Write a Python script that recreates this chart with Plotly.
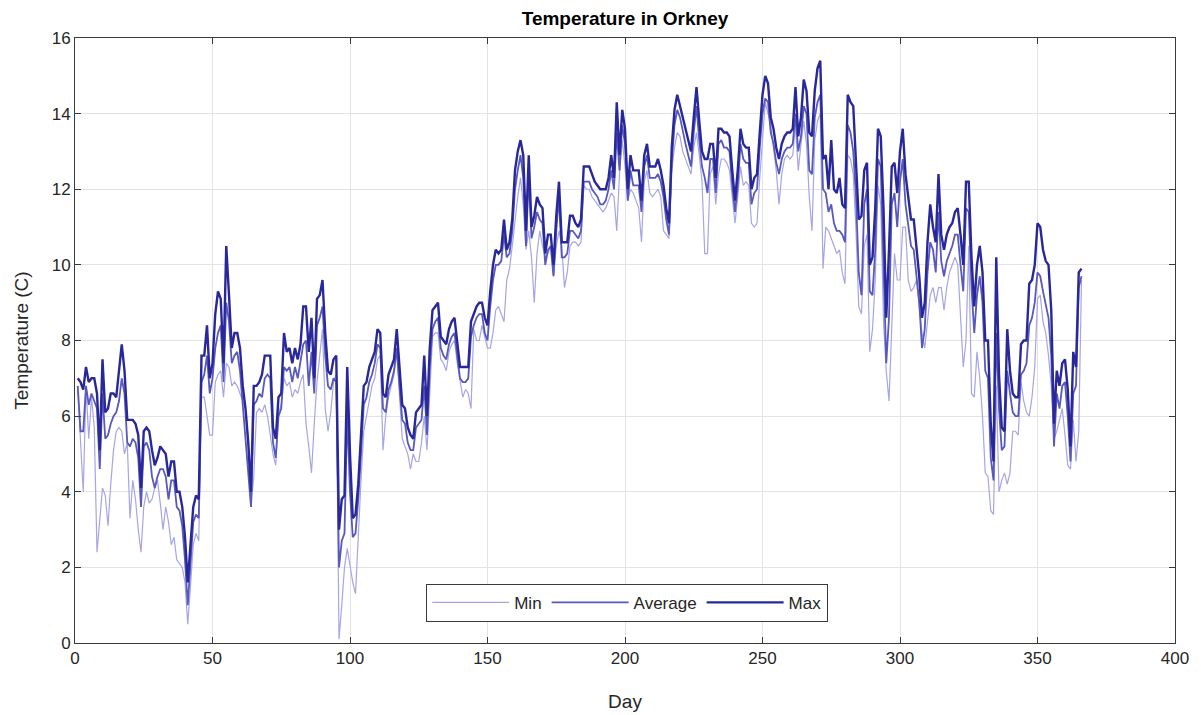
import plotly.graph_objects as go

days = list(range(1, 367))

t_max = [
    7.0, 6.9, 6.7, 7.3, 6.9, 7.0, 7.0, 6.6, 5.1, 7.5,
    6.1, 6.2, 6.6, 6.6, 6.5, 7.3, 7.9, 7.2, 5.9, 5.9,
    5.9, 5.8, 5.5, 4.1, 5.6, 5.7, 5.6, 5.1, 4.7, 4.9,
    5.2, 5.1, 5.0, 4.4, 4.8, 4.8, 4.0, 4.0, 3.6, 2.8,
    1.6, 2.6, 3.6, 3.9, 3.8, 7.6, 7.6, 8.4, 7.0, 7.4,
    8.7, 9.3, 9.1, 7.4, 10.5, 9.2, 7.8, 8.2, 8.2, 7.8,
    6.8, 6.2, 5.3, 4.0, 6.8, 6.8, 6.9, 7.1, 7.6, 7.6,
    7.6, 5.7, 5.4, 6.5, 6.6, 8.2, 7.7, 7.8, 7.4, 7.8,
    7.5, 7.9, 8.9, 8.9, 7.7, 8.6, 7.0, 9.1, 9.2, 9.6,
    8.2, 7.2, 7.1, 7.5, 7.6, 3.0, 3.8, 3.9, 7.3, 5.0,
    3.3, 3.4, 4.2, 5.5, 6.8, 6.9, 7.3, 7.5, 7.7, 8.3,
    8.2, 6.6, 6.5, 7.1, 7.3, 7.5, 8.3, 7.2, 6.3, 6.2,
    5.7, 5.5, 5.4, 6.1, 6.2, 6.3, 7.6, 6.0, 7.8, 8.8,
    8.9, 9.0, 8.1, 8.0, 7.9, 8.3, 8.5, 8.6, 8.0, 7.3,
    7.3, 7.3, 7.3, 8.5, 8.7, 8.9, 9.0, 9.0, 8.6, 8.4,
    9.3, 10.0, 10.4, 10.3, 10.4, 11.2, 10.4, 10.6, 11.2, 12.5,
    13.0, 13.3, 12.9, 10.9, 12.9, 11.0, 11.3, 11.8, 11.6, 11.5,
    10.3, 10.8, 10.8, 10.0, 11.3, 12.2, 10.6, 10.6, 10.6, 11.3,
    11.3, 11.1, 11.0, 11.2, 12.6, 12.6, 12.6, 12.4, 12.2, 12.1,
    12.0, 12.0, 12.0, 12.3, 12.9, 12.3, 14.3, 12.9, 14.1, 13.6,
    12.0, 12.9, 12.5, 12.5, 12.5, 11.7, 12.9, 13.2, 12.6, 12.6,
    12.6, 12.8, 12.5, 12.1, 11.5, 11.1, 13.1, 14.1, 14.5, 14.2,
    13.9, 13.6, 13.3, 13.0, 13.9, 14.7, 13.8, 13.0, 12.8, 12.8,
    13.2, 13.2, 12.3, 13.6, 13.6, 13.5, 13.5, 13.4, 12.5, 11.7,
    12.5, 13.6, 13.2, 13.1, 13.1, 12.0, 12.3, 12.4, 13.5, 14.5,
    15.0, 14.8, 13.9, 13.6, 13.1, 12.8, 13.2, 13.4, 13.5, 13.5,
    13.6, 14.7, 13.4, 13.9, 14.9, 14.6, 13.5, 13.4, 14.6, 15.2,
    15.4, 12.8, 12.9, 12.0, 13.3, 12.0, 11.9, 12.3, 11.6, 11.5,
    14.5, 14.3, 14.2, 12.8, 11.2, 11.3, 12.5, 12.7, 10.0, 10.2,
    11.5, 13.6, 13.4, 11.5, 8.6, 10.4, 12.6, 12.7, 11.9, 13.0,
    13.6, 12.4, 11.8, 11.2, 11.2, 10.4, 9.7, 8.6, 9.0, 10.6,
    11.6, 11.0, 10.6, 12.4, 10.8, 10.4, 10.8, 11.0, 11.1, 11.4,
    11.5, 10.8, 10.0, 12.2, 12.2, 10.2, 8.9, 10.0, 10.5, 9.8,
    8.0, 8.0, 5.8, 4.8, 10.2, 7.1, 5.7, 5.6, 8.3, 7.2,
    6.6, 6.5, 6.5, 7.9, 8.0, 8.0, 9.5, 9.6, 10.0, 11.1,
    11.0, 10.4, 10.1, 10.0, 8.8, 5.8, 7.2, 6.8, 7.4, 7.5,
    6.7, 5.2, 7.7, 7.3, 9.8, 9.9,
]

t_avg = [
    6.8, 5.6, 5.6, 6.8, 6.3, 6.6, 6.4, 6.2, 4.6, 6.6,
    5.4, 5.5, 5.8, 6.0, 6.1, 6.4, 7.0, 6.6, 5.3, 5.2,
    5.4, 5.3, 4.9, 3.6, 5.2, 5.3, 5.1, 4.4, 4.1, 4.4,
    4.6, 4.6, 4.4, 3.8, 4.3, 4.3, 3.6, 3.5, 3.1, 2.2,
    1.0, 2.0, 3.2, 3.4, 3.3, 6.9, 7.1, 7.6, 6.6, 7.0,
    7.8, 8.2, 8.4, 6.9, 9.0, 8.5, 7.4, 7.6, 7.7, 7.2,
    6.3, 5.6, 4.5, 3.6, 6.3, 6.4, 6.6, 6.5, 7.0, 7.1,
    7.0, 5.3, 4.9, 6.0, 6.2, 7.3, 7.2, 7.3, 6.9, 7.3,
    7.0, 7.5, 7.9, 8.0, 6.8, 7.7, 6.6, 8.4, 8.6, 8.9,
    7.6, 6.8, 6.7, 7.0, 6.9, 2.0, 2.7, 2.9, 6.1, 4.0,
    2.8, 2.9, 3.8, 5.0, 6.3, 6.5, 6.9, 7.1, 7.4, 7.9,
    7.8, 6.2, 6.1, 6.7, 6.9, 7.2, 7.8, 6.8, 5.9, 5.8,
    5.3, 5.1, 5.1, 5.7, 5.8, 5.9, 6.8, 5.5, 7.3, 8.3,
    8.5, 8.6, 7.8, 7.6, 7.5, 7.9, 8.1, 8.2, 7.6, 7.0,
    6.9, 6.9, 7.0, 8.1, 8.4, 8.6, 8.7, 8.7, 8.2, 8.0,
    8.9, 9.6, 10.0, 10.0, 10.1, 10.8, 10.2, 10.3, 10.9, 12.0,
    12.5, 12.9, 12.3, 10.5, 12.4, 10.7, 11.0, 11.4, 11.2, 11.1,
    10.0, 10.4, 10.5, 9.7, 10.9, 11.8, 10.2, 10.2, 10.3, 10.9,
    10.9, 10.8, 10.7, 10.9, 12.2, 12.2, 12.2, 12.0, 11.9, 11.8,
    11.6, 11.6, 11.7, 12.0, 12.5, 12.0, 13.5, 12.5, 13.7, 13.2,
    11.7, 12.5, 12.1, 12.1, 12.1, 11.4, 12.6, 12.9, 12.3, 12.3,
    12.3, 12.4, 12.2, 11.8, 11.2, 10.8, 12.7, 13.7, 14.1, 13.9,
    13.5, 13.2, 12.9, 12.6, 13.5, 14.2, 13.3, 12.6, 12.3, 11.9,
    12.8, 12.8, 11.9, 13.2, 13.3, 13.1, 13.1, 13.0, 12.1, 11.4,
    12.1, 13.2, 12.8, 12.7, 12.7, 11.6, 11.9, 12.0, 13.1, 14.0,
    14.4, 14.3, 13.5, 13.2, 12.7, 12.4, 12.8, 13.0, 13.1, 13.1,
    13.2, 14.0, 13.0, 13.4, 14.2, 14.0, 12.5, 12.4, 13.9, 14.3,
    14.5, 12.0, 11.9, 11.4, 11.6, 11.1, 10.9, 10.9, 10.8, 10.6,
    13.7, 13.5, 13.0, 11.8, 9.8, 9.2, 11.6, 12.0, 9.3, 9.2,
    10.4, 12.8, 12.6, 10.3, 7.4, 8.6, 11.6, 11.9, 11.0, 12.2,
    12.8, 11.6, 11.0, 10.5, 10.4, 9.6, 9.0, 7.8, 8.3, 9.8,
    10.6, 10.4, 9.8, 11.4, 10.1, 9.7, 10.1, 10.3, 10.5, 10.8,
    10.8, 10.0, 9.3, 11.5, 11.4, 9.4, 8.2, 9.2, 9.7, 9.0,
    7.2, 7.0, 4.9, 4.3, 8.2, 6.2, 5.1, 5.2, 7.2, 6.6,
    6.1, 6.0, 6.0, 7.1, 7.2, 7.4, 8.4, 8.6, 9.0, 9.8,
    9.7, 9.3, 8.9, 8.6, 7.6, 5.2, 6.6, 6.2, 6.8, 6.9,
    6.0, 4.8, 6.6, 6.8, 9.4, 9.7,
]

t_min = [
    6.7, 5.2, 4.0, 6.8, 5.4, 6.5, 5.7, 2.4, 3.3, 4.1,
    3.9, 3.1, 4.2, 5.1, 5.6, 5.7, 5.6, 5.0, 5.3, 3.3,
    4.3, 3.8, 3.0, 2.4, 3.6, 4.0, 3.7, 3.8, 4.1, 4.3,
    3.7, 3.0, 3.6, 3.2, 2.6, 2.8, 2.2, 2.1, 2.0, 1.6,
    0.5, 1.5, 2.6, 2.9, 2.7, 6.5, 6.5, 6.0, 5.5, 5.5,
    6.9, 7.1, 7.2, 6.5, 7.4, 7.3, 6.8, 6.9, 6.8, 6.6,
    6.4, 6.2, 5.4, 3.6, 4.4, 6.1, 6.2, 6.1, 6.3, 6.0,
    5.5, 5.0, 4.7, 6.1, 6.3, 7.0, 6.8, 6.9, 6.5, 6.7,
    6.6, 6.9, 7.1, 5.8, 5.2, 4.5, 5.8, 6.9, 7.6, 8.3,
    6.2, 5.6, 6.1, 6.9, 7.1, 0.1, 1.0, 2.0, 2.5, 2.0,
    1.6, 1.3, 3.0, 4.3, 5.6, 6.0, 6.5, 6.8, 7.0, 7.5,
    7.6, 5.1, 6.0, 6.5, 6.8, 7.1, 7.7, 6.4, 5.4, 5.2,
    5.0, 4.6, 5.0, 4.8, 4.8, 5.3, 6.0, 5.1, 6.5, 8.1,
    8.2, 8.2, 7.5, 7.4, 7.2, 7.7, 7.9, 8.0, 7.4, 6.9,
    6.5, 6.7, 6.6, 6.2, 8.3, 8.0, 8.0, 8.4, 8.1, 7.8,
    7.8, 8.2, 8.8, 8.9, 8.7, 8.5, 9.6, 9.9, 10.5, 11.2,
    11.8, 12.3, 11.6, 10.4, 10.9, 10.2, 9.0, 10.3, 10.9, 10.5,
    10.2, 10.3, 10.5, 9.7, 10.5, 10.9, 10.5, 9.4, 9.8, 10.5,
    10.6, 10.6, 10.5, 10.6, 12.1, 12.0, 12.0, 11.8, 11.7, 11.6,
    11.5, 11.4, 11.5, 11.7, 11.9, 11.8, 10.9, 12.4, 13.3, 12.6,
    11.7, 12.0, 11.9, 11.7, 11.5, 10.6, 12.2, 12.5, 11.9, 11.8,
    11.9, 12.0, 11.8, 10.9, 10.8, 10.7, 12.5, 13.1, 13.5, 13.4,
    13.0, 12.8, 12.6, 12.4, 13.1, 13.5, 12.9, 12.2, 10.3, 10.3,
    12.4, 12.6, 11.6, 12.4, 12.8, 12.8, 12.7, 12.5, 11.8, 11.1,
    11.8, 12.6, 12.1, 12.2, 12.1, 11.1, 11.0, 11.1, 12.3, 13.4,
    14.3, 14.0, 13.7, 13.1, 12.5, 11.6, 12.4, 12.8, 12.9, 12.8,
    12.9, 13.7, 12.5, 13.2, 13.8, 13.2, 11.8, 10.9, 13.3, 13.8,
    14.0, 9.9, 11.0, 10.9, 10.7, 10.5, 10.3, 10.4, 9.8, 9.5,
    12.9, 12.8, 12.4, 10.9, 8.9, 8.7, 10.5, 10.8, 7.7, 8.3,
    9.6, 12.1, 11.6, 8.5, 7.2, 6.4, 8.5, 10.3, 9.6, 9.6,
    11.0, 11.0, 9.6, 9.3, 9.4, 9.6, 8.9, 8.2, 7.8, 8.6,
    9.2, 9.4, 9.0, 9.4, 9.4, 8.8, 9.4, 9.8, 10.0, 10.2,
    10.0, 8.8, 7.3, 8.0, 10.5, 6.6, 6.5, 7.7, 7.0, 6.0,
    4.5, 4.4, 3.5, 3.4, 6.8, 4.0, 4.3, 4.5, 4.2, 4.5,
    5.6, 5.6, 5.5, 6.9, 6.4, 6.1, 6.0, 6.5, 7.3, 9.1,
    9.2, 8.5, 8.2, 7.6, 6.8, 5.4, 5.6, 5.9, 6.2, 5.5,
    4.7, 4.6, 5.9, 4.8, 5.6, 9.6,
]

x_ticks = [0, 50, 100, 150, 200, 250, 300, 350, 400]
y_ticks = [0, 2, 4, 6, 8, 10, 12, 14, 16]

FONT = "Liberation Sans, Arial, Helvetica, sans-serif"
TXT = "#262626"

fig = go.Figure()
fig.add_trace(go.Scatter(x=days, y=t_min, mode="lines", name="Min",
                         line=dict(color="rgb(165,165,232)", width=1.2)))
fig.add_trace(go.Scatter(x=days, y=t_avg, mode="lines", name="Average",
                         line=dict(color="rgb(88,88,190)", width=1.8)))
fig.add_trace(go.Scatter(x=days, y=t_max, mode="lines", name="Max",
                         line=dict(color="rgb(40,40,155)", width=2.4)))

axis_common = dict(
    showgrid=True, gridcolor="#e3e3e3", gridwidth=1,
    showline=True, linecolor="#3a3a3a", linewidth=1, mirror="ticks",
    ticks="inside", ticklen=6, tickcolor="#3a3a3a", automargin=False,
    zeroline=False, tickfont=dict(family=FONT, size=17, color=TXT),
)

fig.update_layout(
    width=1201, height=715,
    margin=dict(l=75, r=26, t=38, b=72),
    paper_bgcolor="white", plot_bgcolor="white",
    font=dict(family=FONT, color=TXT),
    title=dict(text="<b>Temperature in Orkney</b>", x=0.5, xanchor="center",
               xref="paper", y=0.975, yanchor="middle",
               font=dict(family=FONT, size=19, color="black")),
    xaxis=dict(range=[0, 400], tickvals=x_ticks,
               title=dict(text="Day", font=dict(family=FONT, size=19, color=TXT), standoff=27),
               **axis_common),
    yaxis=dict(range=[0, 16], tickvals=y_ticks,
               title=dict(text="Temperature (C)", font=dict(family=FONT, size=19, color=TXT), standoff=18),
               **axis_common),
    legend=dict(orientation="h", x=0.502, xanchor="center", y=0.035, yanchor="bottom",
                bgcolor="white", bordercolor="#3a3a3a", borderwidth=1,
                font=dict(family=FONT, size=17, color=TXT),
                itemwidth=77, tracegroupgap=0),
    showlegend=True,
)

fig.write_html("out.html")
